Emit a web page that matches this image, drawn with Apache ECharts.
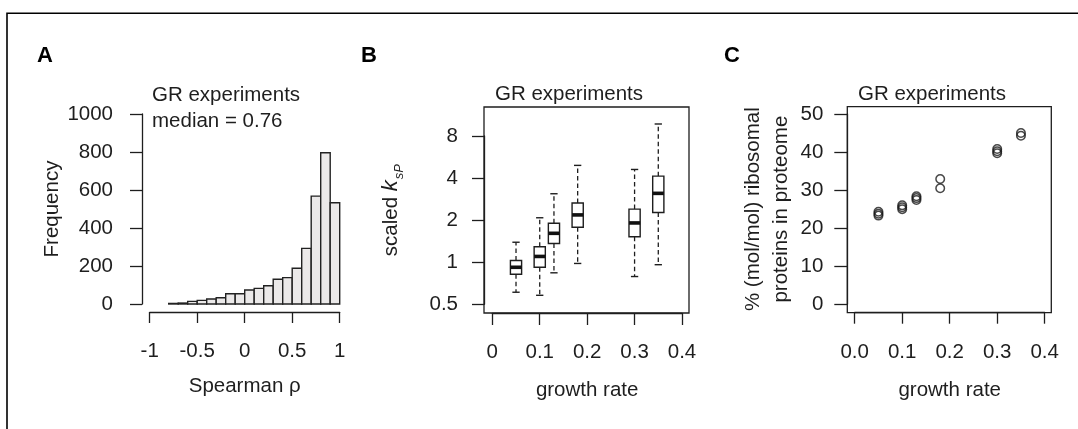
<!DOCTYPE html>
<html>
<head>
<meta charset="utf-8">
<script src="https://cdn.jsdelivr.net/npm/echarts@6/dist/echarts.min.js"></script>
<style>
html,body{margin:0;padding:0;background:#fff;}
#chart{width:1078px;height:429px;}
</style>
</head>
<body>
<div id="chart"></div>
<script>
// ---------- Panel A: histogram of Spearman rho ----------
const histBinEdges = [-0.8,-0.7,-0.6,-0.5,-0.4,-0.3,-0.2,-0.1,0,0.1,0.2,0.3,0.4,0.5,0.6,0.7,0.8,0.9,1.0];
const histCounts   = [3,5,14,19,26,33,54,54,74,82,96,130,139,188,293,568,796,533];
const histXTicks   = [-1,-0.5,0,0.5,1];
const histYTicks   = [0,200,400,600,800,1000];

// ---------- Panel B: boxplots of scaled ksP (log axis) ----------
const boxGrowth = [0.05,0.10,0.13,0.18,0.30,0.35];
const boxLow    = [0.61,0.58,0.84,0.98,0.79,0.96];
const boxQ1     = [0.82,0.92,1.36,1.78,1.52,2.27];
const boxMedian = [0.92,1.10,1.61,2.18,1.91,3.11];
const boxQ3     = [1.03,1.29,1.90,2.65,2.40,4.13];
const boxHigh   = [1.39,2.08,3.09,4.93,4.61,9.75];
const boxYTicks = [0.5,1,2,4,8];
const growthTicks = [0,0.1,0.2,0.3,0.4];

// ---------- Panel C: ribosomal protein % vs growth rate ----------
const riboGrowth  = [0.05,0.05,0.05, 0.10,0.10,0.10, 0.13,0.13,0.13, 0.18,0.18, 0.30,0.30,0.30, 0.35,0.35];
const riboPercent = [24.3,23.8,23.3, 26.0,25.5,25.0, 28.4,27.9,27.4, 32.9,30.5, 40.8,40.2,39.7, 45.0,44.3];
const riboYTicks  = [0,10,20,30,40,50];

const FONT = "'Liberation Sans', Arial, sans-serif";
const INK = '#1e1e1e';
const FS = 20.5;

function baseAxis(extra) {
  const ax = {
    axisLine: { show: true, onZero: false, lineStyle: { color: INK, width: 1.3 } },
    axisTick: { show: true, length: 12, lineStyle: { color: INK, width: 1.3 } },
    splitLine: { show: false },
    axisLabel: { color: INK, fontFamily: FONT, fontSize: FS },
    nameTextStyle: { color: INK, fontFamily: FONT, fontSize: FS },
    nameLocation: 'middle'
  };
  return Object.assign(ax, extra);
}
function hiddenAxis(gi) {
  return { gridIndex: gi, type: 'value', min: 0, max: 1, show: false };
}

const chart = echarts.init(document.getElementById('chart'), null, { renderer: 'canvas' });

const option = {
  animation: false,
  backgroundColor: '#fff',
  grid: [
    { left: 149.7, top: 114, width: 190, height: 190, outerBoundsMode: 'none' },                 // A
    { left: 492.3, top: 136, width: 189.7, height: 168.3, outerBoundsMode: 'none' },             // B data
    { left: 484, top: 107, width: 205, height: 206, show: true, borderColor: INK, borderWidth: 1.3, backgroundColor: 'transparent', outerBoundsMode: 'none' }, // B frame
    { left: 854.7, top: 114, width: 190, height: 190.3, outerBoundsMode: 'none' },               // C data
    { left: 847.3, top: 106.7, width: 204, height: 206, show: true, borderColor: INK, borderWidth: 1.3, backgroundColor: 'transparent', outerBoundsMode: 'none' } // C frame
  ],
  xAxis: [
    baseAxis({ gridIndex: 0, type: 'value', min: histXTicks[0], max: histXTicks[histXTicks.length - 1], interval: 0.5,
      offset: 8, axisTick: { show: true, length: 11, lineStyle: { color: INK, width: 1.3 } },
      axisLabel: { color: INK, fontFamily: FONT, fontSize: FS, margin: 29, formatter: v => String(v) },
      name: 'Spearman ρ', nameGap: 64 }),
    baseAxis({ gridIndex: 1, type: 'value', min: growthTicks[0], max: growthTicks[growthTicks.length - 1], interval: 0.1,
      offset: 8.7, axisTick: { show: true, length: 12, lineStyle: { color: INK, width: 1.3 } },
      axisLabel: { color: INK, fontFamily: FONT, fontSize: FS, margin: 28.5, formatter: v => String(+v.toFixed(1)) },
      name: 'growth rate', nameGap: 67 }),
    hiddenAxis(2),
    baseAxis({ gridIndex: 3, type: 'value', min: growthTicks[0], max: growthTicks[growthTicks.length - 1], interval: 0.1,
      offset: 8.4, axisTick: { show: true, length: 11, lineStyle: { color: INK, width: 1.3 } },
      axisLabel: { color: INK, fontFamily: FONT, fontSize: FS, margin: 28.8, formatter: v => v.toFixed(1) },
      name: 'growth rate', nameGap: 67 }),
    hiddenAxis(4)
  ],
  yAxis: [
    baseAxis({ gridIndex: 0, type: 'value', min: histYTicks[0], max: histYTicks[histYTicks.length - 1], interval: 200,
      offset: 7.7, axisLabel: { color: INK, fontFamily: FONT, fontSize: FS, margin: 29, formatter: v => String(v) },
      name: 'Frequency', nameGap: 79 }),
    baseAxis({ gridIndex: 1, type: 'log', logBase: 2, min: boxYTicks[0], max: boxYTicks[boxYTicks.length - 1], splitNumber: 4,
      offset: 8.3, axisLabel: { color: INK, fontFamily: FONT, fontSize: FS, margin: 26, formatter: v => String(+(+v).toFixed(2)) },
      name: 'scaled {k|k}{s|sP}', nameGap: 82,
      nameTextStyle: { color: INK, fontFamily: FONT, fontSize: FS, padding: [0, 0, 0, 20],
        rich: {
          k: { fontFamily: FONT, fontSize: 22, fontStyle: 'italic', color: INK },
          s: { fontFamily: FONT, fontSize: 13, fontStyle: 'italic', color: INK, verticalAlign: 'bottom', padding: [0, 0, -4, 1] }
        } } }),
    hiddenAxis(2),
    baseAxis({ gridIndex: 3, type: 'value', min: riboYTicks[0], max: riboYTicks[riboYTicks.length - 1], interval: 10,
      offset: 7.4, axisTick: { show: true, length: 13, lineStyle: { color: INK, width: 1.3 } },
      axisLabel: { color: INK, fontFamily: FONT, fontSize: FS, margin: 24 },
      name: '% (mol/mol) ribosomal\nproteins in proteome', nameGap: 52,
      nameTextStyle: { color: INK, fontFamily: FONT, fontSize: FS, lineHeight: 28 } }),
    hiddenAxis(4)
  ],
  series: [
    {
      type: 'custom', name: 'histogram', xAxisIndex: 0, yAxisIndex: 0,
      data: histCounts.map((c, i) => [histBinEdges[i], histBinEdges[i + 1], c]),
      encode: { x: [0, 1], y: 2 },
      renderItem: function (params, api) {
        const a = api.coord([api.value(0), api.value(2)]);
        const b = api.coord([api.value(1), 0]);
        return { type: 'rect', shape: { x: a[0], y: a[1], width: b[0] - a[0], height: b[1] - a[1] },
          style: { fill: '#ebe9e9', stroke: '#222', lineWidth: 1.4 } };
      }
    },
    {
      type: 'custom', name: 'boxplot', xAxisIndex: 1, yAxisIndex: 1,
      data: boxGrowth.map((g, i) => [g, boxLow[i], boxQ1[i], boxMedian[i], boxQ3[i], boxHigh[i]]),
      encode: { x: 0, y: [1, 2, 3, 4, 5] },
      renderItem: function (params, api) {
        const x = api.value(0);
        const hw = 0.0118, cw = 0.0077;
        const lo = api.value(1), q1 = api.value(2), md = api.value(3), q3 = api.value(4), hi = api.value(5);
        const pLo = api.coord([x, lo]), pQ1 = api.coord([x, q1]), pQ3 = api.coord([x, q3]), pHi = api.coord([x, hi]);
        const boxL = api.coord([x - hw, q3]), boxR = api.coord([x + hw, q1]);
        const mL = api.coord([x - hw, md]), mR = api.coord([x + hw, md]);
        const cLoL = api.coord([x - cw, lo]), cLoR = api.coord([x + cw, lo]);
        const cHiL = api.coord([x - cw, hi]), cHiR = api.coord([x + cw, hi]);
        const dashed = { stroke: INK, lineWidth: 1.3, lineDash: [4.5, 3] };
        const solid = { stroke: INK, lineWidth: 1.4 };
        return { type: 'group', children: [
          { type: 'line', shape: { x1: pQ3[0], y1: pQ3[1], x2: pHi[0], y2: pHi[1] }, style: dashed },
          { type: 'line', shape: { x1: pQ1[0], y1: pQ1[1], x2: pLo[0], y2: pLo[1] }, style: dashed },
          { type: 'line', shape: { x1: cHiL[0], y1: cHiL[1], x2: cHiR[0], y2: cHiR[1] }, style: solid },
          { type: 'line', shape: { x1: cLoL[0], y1: cLoL[1], x2: cLoR[0], y2: cLoR[1] }, style: solid },
          { type: 'rect', shape: { x: boxL[0], y: boxL[1], width: boxR[0] - boxL[0], height: boxR[1] - boxL[1] },
            style: { fill: '#fff', stroke: INK, lineWidth: 1.4 } },
          { type: 'line', shape: { x1: mL[0], y1: mL[1], x2: mR[0], y2: mR[1] }, style: { stroke: '#111', lineWidth: 3.6, lineCap: 'butt' } }
        ] };
      }
    },
    {
      type: 'scatter', name: 'ribosomal', xAxisIndex: 3, yAxisIndex: 3,
      data: riboGrowth.map((g, i) => [g, riboPercent[i]]),
      symbol: 'circle', symbolSize: 8.5,
      itemStyle: { color: 'rgba(0,0,0,0)', borderColor: '#1a1a1a', borderWidth: 1.5 },
      silent: true
    }
  ],
  graphic: [
    { type: 'polyline', shape: { points: [[7, 429], [7, 13.3], [1078, 13.3]] }, style: { stroke: '#000', lineWidth: 1.6, fill: null } },
    { type: 'text', x: 37, y: 56, style: { text: 'A', fontFamily: FONT, fontWeight: 'bold', fontSize: 22, fill: '#000', verticalAlign: 'middle' } },
    { type: 'text', x: 361, y: 56, style: { text: 'B', fontFamily: FONT, fontWeight: 'bold', fontSize: 22, fill: '#000', verticalAlign: 'middle' } },
    { type: 'text', x: 724, y: 56, style: { text: 'C', fontFamily: FONT, fontWeight: 'bold', fontSize: 22, fill: '#000', verticalAlign: 'middle' } },
    { type: 'text', x: 152, y: 95, style: { text: 'GR experiments', fontFamily: FONT, fontSize: FS, fill: INK, verticalAlign: 'middle' } },
    { type: 'text', x: 152, y: 121, style: { text: 'median = 0.76', fontFamily: FONT, fontSize: FS, fill: INK, verticalAlign: 'middle' } },
    { type: 'text', x: 569, y: 94.5, style: { text: 'GR experiments', fontFamily: FONT, fontSize: FS, fill: INK, align: 'center', verticalAlign: 'middle' } },
    { type: 'text', x: 932, y: 94.5, style: { text: 'GR experiments', fontFamily: FONT, fontSize: FS, fill: INK, align: 'center', verticalAlign: 'middle' } }
  ]
};

chart.setOption(option);
</script>
</body>
</html>
